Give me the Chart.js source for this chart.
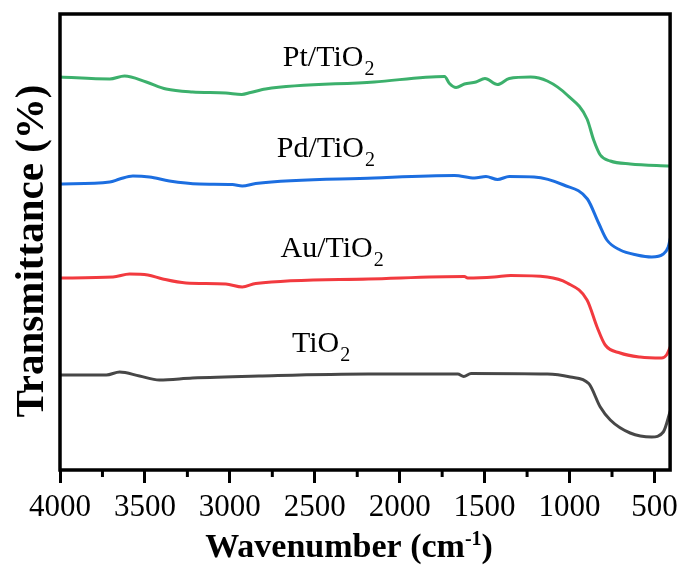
<!DOCTYPE html>
<html>
<head>
<meta charset="utf-8">
<script src="https://cdn.jsdelivr.net/npm/chart.js@4.4.1/dist/chart.umd.min.js"></script>
<style>
  html, body { margin: 0; padding: 0; background: #fff; }
  #wrap { width: 684px; height: 574px; }
</style>
</head>
<body>
<div id="wrap"><canvas id="myChart" width="684" height="574"></canvas></div>
<script>
// x ticks (cm-1)
var majorTicks = [4000, 3500, 3000, 2500, 2000, 1500, 1000, 500];
var minorTicks = [3750, 3250, 2750, 2250, 1750, 1250, 750];

// curves (y is an offset transmittance, arbitrary units)
var ptWn = [4000, 3707, 3620, 3492, 3375, 3220, 3024, 2930, 2878, 2790, 2150, 1736, 1707, 1668, 1619, 1551, 1498, 1424, 1355, 1229, 1131, 1014, 897, 858, 819, 760, 643, 409];
var ptT  = [393, 391, 394, 388, 381, 378, 377, 375.5, 377.5, 381, 388, 393.5, 386.5, 382.5, 386, 388, 391.5, 385.5, 391.5, 393, 389, 375, 351, 330, 315, 309, 306, 304];

var pdWn = [4000, 3707, 3649, 3571, 3473, 3356, 3180, 2985, 2927, 2848, 2150, 1677, 1560, 1492, 1424, 1355, 1209, 1034, 895, 829, 780, 702, 604, 516, 448, 419, 405];
var pdT  = [286, 288, 291, 294, 293, 289, 286, 285.5, 284, 286.5, 292, 294.5, 292, 293.5, 290.5, 293.5, 293, 285, 271, 247, 230, 220, 215, 213, 216, 223, 233];

var auWn = [4000, 3688, 3590, 3483, 3395, 3258, 3024, 2927, 2848, 2185, 1619, 1600, 1443, 1346, 1131, 1014, 897, 838, 790, 702, 585, 458, 429, 405];
var auT  = [192, 193, 196, 195, 191, 187, 186, 183, 186.5, 191, 193.5, 192, 193, 194.5, 193, 187, 170, 143, 125, 117, 113, 112, 115, 124];

var tiWn = [4000, 3727, 3649, 3532, 3415, 3220, 2829, 2185, 1658, 1623, 1580, 1131, 995, 887, 819, 760, 643, 516, 448, 405];
var tiT  = [95, 95, 98, 94, 90, 92, 94, 96, 96, 93.5, 96.5, 96, 93, 86.5, 63, 50, 37, 33, 38, 60];

var seriesNames = ["Pt/TiO2", "Pd/TiO2", "Au/TiO2", "TiO2"];
var seriesColors = ["#3cb06c", "#1c6ee0", "#f23a3f", "#474747"];
// where each label sits: left edge (cm-1) and baseline (y units)
var labelWn = [2688, 2724, 2702, 2634];
var labelT  = [404, 313, 213, 118];

var SERIF = "'Liberation Serif', 'Times New Roman', serif";

var toPoints = function (xs, ys) {
  return xs.map(function (v, i) { return { x: v, y: ys[i] }; });
};

var frameAndTicks = {
  id: 'frameAndTicks',
  afterDraw: function (chart) {
    var ctx = chart.ctx;
    var a = chart.chartArea;
    var xs = chart.scales.x;
    ctx.save();
    ctx.strokeStyle = '#000';
    ctx.lineWidth = 3.5;
    ctx.strokeRect(a.left, a.top, a.right - a.left, a.bottom - a.top);
    ctx.lineWidth = 3;
    minorTicks.forEach(function (v) {
      var px = xs.getPixelForValue(v);
      ctx.beginPath();
      ctx.moveTo(px, a.bottom);
      ctx.lineTo(px, a.bottom + 7);
      ctx.stroke();
    });
    ctx.restore();
  }
};

// axis titles (x title needs a real superscript)
var axisTitles = {
  id: 'axisTitles',
  afterDraw: function (chart) {
    var ctx = chart.ctx;
    var a = chart.chartArea;
    ctx.save();
    ctx.fillStyle = '#000';
    ctx.textBaseline = 'alphabetic';

    var parts = [
      { t: 'Wavenumber (cm', f: 'bold 34px ' + SERIF, dy: 0 },
      { t: '-1', f: 'bold 20px ' + SERIF, dy: -12 },
      { t: ')', f: 'bold 34px ' + SERIF, dy: 0 }
    ];
    var total = 0;
    parts.forEach(function (p) { ctx.font = p.f; p.w = ctx.measureText(p.t).width; total += p.w; });
    var cx = (a.left + a.right) / 2 - 16;
    var x = cx - total / 2;
    var base = chart.height - 17;
    ctx.textAlign = 'left';
    parts.forEach(function (p) {
      ctx.font = p.f;
      ctx.fillText(p.t, x, base + p.dy);
      x += p.w;
    });

    ctx.translate(43, (a.top + a.bottom) / 2 + 9);
    ctx.rotate(-Math.PI / 2);
    ctx.textAlign = 'center';
    ctx.font = 'bold 41px ' + SERIF;
    ctx.fillText('Transmittance (%)', 0, 0);
    ctx.restore();
  }
};

var seriesLabels = {
  id: 'seriesLabels',
  afterDatasetsDraw: function (chart) {
    var ctx = chart.ctx;
    var xs = chart.scales.x, ys = chart.scales.y;
    ctx.save();
    ctx.fillStyle = '#000';
    ctx.textBaseline = 'alphabetic';
    ctx.textAlign = 'left';
    seriesNames.forEach(function (name, i) {
      var main = name.slice(0, -1);
      var sub = name.slice(-1);
      var px = xs.getPixelForValue(labelWn[i]);
      var py = ys.getPixelForValue(labelT[i]);
      ctx.font = '30px ' + SERIF;
      ctx.fillText(main, px, py);
      var w = ctx.measureText(main).width;
      ctx.font = '20px ' + SERIF;
      ctx.fillText(sub, px + w + 1, py + 9);
    });
    ctx.restore();
  }
};

Chart.defaults.font.family = SERIF;
Chart.defaults.color = '#000';

var ctx = document.getElementById("myChart");
var myChart = new Chart(ctx, {
  type: 'line',
  data: {
    datasets: [
      { label: seriesNames[0], data: toPoints(ptWn, ptT), borderColor: seriesColors[0] },
      { label: seriesNames[1], data: toPoints(pdWn, pdT), borderColor: seriesColors[1] },
      { label: seriesNames[2], data: toPoints(auWn, auT), borderColor: seriesColors[2] },
      { label: seriesNames[3], data: toPoints(tiWn, tiT), borderColor: seriesColors[3] }
    ]
  },
  options: {
    responsive: false,
    animation: false,
    layout: { padding: { top: 14, right: 11, left: 0, bottom: 0 } },
    elements: {
      line: { borderWidth: 3, cubicInterpolationMode: 'monotone', fill: false },
      point: { radius: 0 }
    },
    plugins: {
      legend: { display: false },
      tooltip: { enabled: false }
    },
    scales: {
      x: {
        type: 'linear',
        reverse: true,
        min: 408,
        max: 4000,
        afterBuildTicks: function (s) {
          s.ticks = majorTicks.map(function (v) { return { value: v }; });
        },
        afterFit: function (s) { s.height = 104; },
        border: { display: false },
        grid: {
          drawOnChartArea: false,
          drawTicks: true,
          tickLength: 13,
          tickColor: '#000',
          tickWidth: 3
        },
        ticks: {
          font: { size: 31 },
          padding: 6,
          maxRotation: 0,
          autoSkip: false,
          callback: function (v) { return String(v); }
        },
        title: { display: false }
      },
      y: {
        min: 0,
        max: 456,
        afterFit: function (s) { s.width = 60; },
        border: { display: false },
        grid: { display: false },
        ticks: { display: false },
        title: { display: false }
      }
    }
  },
  plugins: [frameAndTicks, axisTitles, seriesLabels]
});
</script>
</body>
</html>
